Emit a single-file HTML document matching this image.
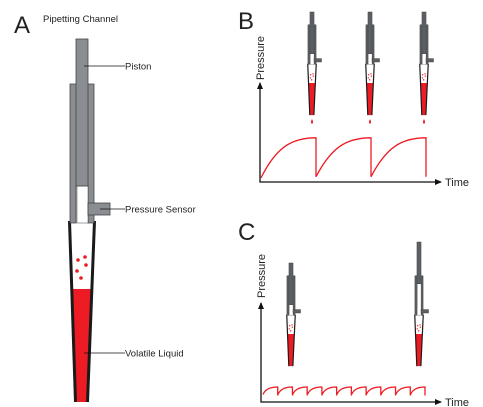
<!DOCTYPE html>
<html><head><meta charset="utf-8"><style>
body{margin:0;background:#fff;}
svg{display:block;font-family:"Liberation Sans",sans-serif;}
</style></head><body>
<svg id="fig" width="483" height="407" viewBox="0 0 483 407">
<g>
<text x="14" y="33" font-size="24" font-weight="300" fill="#222">A</text>
<text x="43" y="22" font-size="9.5" fill="#222">Pipetting Channel</text>
</g>
<g>
<text x="238" y="29" font-size="24" font-weight="300" fill="#222">B</text>
</g>
<g>
<text x="238" y="240" font-size="24" font-weight="300" fill="#222">C</text>
</g>
</svg>
<script>
// Panel B sawtooth: cycles (start time) and pressure levels (0..1)
const bCycleStarts=[0,1,2];
const bPeakValues=[0.85,0.85,0.85];
const bStartValues=[0.08,0.1,0.1];
// Panel C small sawtooth: 11 teeth
const cTeethCount=11;
const cPeakValues=[0.9,0.9,0.9,0.9,0.9,0.9,0.9,0.9,0.9,0.9,0.9];
const cStartValues=[0.15,0.1,0.1,0.1,0.1,0.1,0.1,0.1,0.1,0.1,0.1];

const NS="http://www.w3.org/2000/svg";
const svg=document.getElementById('fig');
function mk(tag,attrs,parent){const e=document.createElementNS(NS,tag);for(const k in attrs)e.setAttribute(k,attrs[k]);(parent||svg).appendChild(e);return e;}

function pipette(name,cx,top,sx,sy,pistonLift,drop,col){
  const g=mk('g',{});
  
  
  const X=x=>cx+(x-82)*sx, Y=y=>top+(y-39)*sy;
  const sw=Math.max(0.6,sx);
  const tipBg=mk('polygon',{points:`${X(69)},${Y(221)} ${X(95)},${Y(221)} ${X(88)},${Y(402)} ${X(75)},${Y(402)}`,fill:'#fff'},g);
  
  const liq=mk('polygon',{points:`${X(72)},${Y(289)} ${X(92)},${Y(289)} ${X(88)},${Y(402)} ${X(75)},${Y(402)}`,fill:'#ed1c24'},g);
  
  [[78,260],[85,257],[77,271],[86,265],[81,278]].forEach(p=>{
    const c=mk('circle',{cx:X(p[0]),cy:Y(p[1]),r:Math.max(0.7,1.8*sx),fill:'#ed1c24'},g);
    
  });
  const tip=mk('path',{d:`M${X(69.5)},${Y(221)} L${X(75.5)},${Y(402)} M${X(94.5)},${Y(221)} L${X(87.5)},${Y(402)}`,fill:'none',stroke:'#1a1a1a','stroke-width':Math.max(1.2,3*sx)},g);
  
  const body=mk('path',{d:`M${X(70)},${Y(84)}H${X(94)}V${Y(223)}H${X(88)}V${Y(186)}H${X(76)}V${Y(223)}H${X(70)}Z`,fill:col,stroke:'#444','stroke-width':sw*0.8},g);
  
  const ch=mk('rect',{x:X(77),y:Y(186)-pistonLift,width:11*sx,height:37*sy+pistonLift,fill:'#fff',stroke:'#444','stroke-width':sw*0.5},g);
  
  const pis=mk('rect',{x:X(76),y:Y(39)-pistonLift,width:12*sx,height:147*sy,fill:col,stroke:'#444','stroke-width':sw*0.8},g);
  
  const sen=mk('rect',{x:X(88),y:Y(203),width:22*sx,height:12*sy,fill:col,stroke:'#444','stroke-width':sw*0.8},g);
  
  if(drop){
    const d=mk('path',{d:`M${cx},${Y(402)+4} q2,3 0,5 q-2,-2 0,-5z`,fill:'#ed1c24'},g);
    
  }
}
pipette('main-pipette',82,39,1,1,0,false,'#8a8d92');
[['Piston',84,66],['Pressure Sensor',100,209],['Volatile Liquid',84,353]].forEach(l=>{
  const ln=mk('line',{x1:l[1],y1:l[2],x2:125,y2:l[2],stroke:'#111','stroke-width':0.8});
  
  const t=mk('text',{x:125,y:l[2]+3.5,'font-size':9.5,fill:'#222'});t.textContent=l[0];
  
});
[312,370,424].forEach((cx,i)=>pipette('panel-b-pipette-'+(i+1),cx,12,0.34,0.284,0,true,'#5c5f63'));
pipette('panel-c-pipette-1',291,263,0.34,0.284,0,false,'#5c5f63');
pipette('panel-c-pipette-2',419,263,0.34,0.284,21,false,'#5c5f63');

function axes(prefix,x0,y0,yTop,xEnd,labelY){
  const a=mk('path',{d:`M${x0},${yTop}V${y0}H${xEnd}`,fill:'none',stroke:'#111','stroke-width':1.3});
  
  const ay=mk('polygon',{points:`${x0-3},${yTop+6} ${x0+3},${yTop+6} ${x0},${yTop-1}`,fill:'#111'});
  
  const ax=mk('polygon',{points:`${xEnd-6},${y0-3} ${xEnd-6},${y0+3} ${xEnd+1},${y0}`,fill:'#111'});
  
  const tt=mk('text',{x:xEnd+4,y:y0+4,'font-size':11,fill:'#222'});tt.textContent='Time';
  
  const tp=mk('text',{x:0,y:0,'font-size':11,fill:'#222',transform:`translate(${x0+4},${labelY}) rotate(-90)`});tp.textContent='Pressure';
  
}
axes('panel-b',260,182,83,441,80);
axes('panel-c',261,402,303,441,298);

const bX=t=>261+t*55, bY=v=>182-v*52;
let d='';
bCycleStarts.forEach((t,i)=>{
  const x0=bX(t),x1=bX(t+1),y0=bY(bStartValues[i]),y1=bY(bPeakValues[i]);
  d+=`M${x0},${y0} C${x0+15},${y1+10} ${x1-25},${y1} ${x1},${y1} L${x1},${bY(i<bCycleStarts.length-1?bStartValues[i+1]:bStartValues[i])}`;
});
const bc=mk('path',{d:d,fill:'none',stroke:'#ed1c24','stroke-width':1.3});


const cX=t=>263+t*(162/cTeethCount), cY=v=>396-v*10;
let dc='';
for(let i=0;i<cTeethCount;i++){
  const x0=cX(i),x1=cX(i+1),y0=cY(cStartValues[i]),y1=cY(cPeakValues[i]);
  dc+=`M${x0},${y0} Q${x0+3},${y1} ${x1},${y1} L${x1},${cY(0.05)}`;
}
const cc=mk('path',{d:dc,fill:'none',stroke:'#ed1c24','stroke-width':1.3});

</script>
</body></html>
